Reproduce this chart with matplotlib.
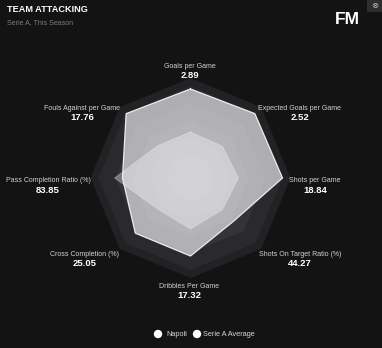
import numpy as np
import matplotlib
matplotlib.use('Agg')
from matplotlib import pyplot as plt
from matplotlib.patches import Rectangle, Ellipse

# axis labels, clockwise from the top
labels = ['Goals per Game', 'Expected Goals per Game', 'Shots per Game',
          'Shots On Target Ratio (%)', 'Dribbles Per Game', 'Cross Completion (%)',
          'Pass Completion Ratio (%)', 'Fouls Against per Game']
napoli_values = ['2.89', '2.52', '18.84', '44.27', '17.32', '25.05', '83.85', '17.76']

# radial position of each polygon corner (share of the outer ring)
napoli_r = [0.89, 0.91, 0.92, 0.61, 0.78, 0.78, 0.68, 0.91]
average_r = [0.46, 0.45, 0.48, 0.45, 0.51, 0.45, 0.76, 0.46]

# background rings
ring_r = [1.0, 0.92, 0.75, 0.58, 0.41, 0.24]
ring_colors = ['#222225', '#2a2a2e', '#333338', '#3d3d42', '#48484e', '#535359']

BG = '#131313'
W, H = 382, 348

def fx(x):
    return x / W

def fy(y):
    return 1 - y / H

fig = plt.figure(figsize=(W / 100, H / 100), dpi=100, facecolor=BG)

cx, cy, R = 190.5, 178, 100
ax = fig.add_axes([fx(cx - R), fy(cy + R), 2 * R / W, 2 * R / H], polar=True)
ax.set_facecolor('none')
ax.set_theta_offset(np.pi / 2)
ax.set_theta_direction(-1)
ax.set_ylim(0, 1)
ax.axis('off')

n = len(labels)
theta = np.linspace(0, 2 * np.pi, n, endpoint=False)
theta_c = np.append(theta, theta[0])

for r, c in zip(ring_r, ring_colors):
    ax.fill(theta_c, [r] * (n + 1), color=c, lw=0, zorder=1)

nap = np.append(napoli_r, napoli_r[0])
avg = np.append(average_r, average_r[0])
ax.fill(theta_c, nap, color='#f4f4f6', alpha=0.66, lw=0, zorder=2)
ax.plot(theta_c, nap, color='#ededed', lw=0.9, zorder=4)
ax.fill(theta_c, avg, color='white', alpha=0.34, lw=0, zorder=3)
ax.plot(theta_c, avg, color='white', alpha=0.3, lw=0.6, zorder=3)

# label positions in pixels (name line centre)
label_xy = [(190, 67), (300, 109), (315, 181), (300, 254),
            (189, 286), (85, 254), (48, 181), (82, 109)]
for name, val, (x, y) in zip(labels, napoli_values, label_xy):
    fig.text(fx(x), fy(y), name, color='#d2d2d2', fontsize=5, family='Liberation Sans',
             ha='center', va='center')
    fig.text(fx(x), fy(y + 9), val, color='white', fontsize=6.8, family='Liberation Sans',
             fontweight='bold', ha='center', va='center')

# header
fig.text(fx(7), fy(10), 'TEAM ATTACKING', color='white', fontsize=6.6,
         family='Liberation Sans', fontweight='bold', ha='left', va='center')
fig.text(fx(7), fy(23), 'Serie A, This Season', color='#7c7c7c', fontsize=5,
         family='Liberation Sans', ha='left', va='center')
fig.text(fx(347.5), fy(19), 'FM', color='white', fontsize=12.5,
         family='Liberation Sans', fontweight='bold', ha='center', va='center')
fig.patches.append(Rectangle((fx(367), fy(12)), 15 / W, 12 / H, transform=fig.transFigure,
                             facecolor='#2e2e2e', edgecolor='none'))
fig.text(fx(375), fy(5.5), '\u2297', color='#bdbdbd', fontsize=6,
         ha='center', va='center')

# legend
for lx, tx, name in [(158, 166, 'Napoli'), (197, 203, 'Serie A Average')]:
    fig.patches.append(Ellipse((fx(lx), fy(334)), 8.4 / W, 8.4 / H, transform=fig.transFigure,
                               facecolor='white', edgecolor='none'))
    fig.text(fx(tx), fy(334), name, color='#d6d6d6', fontsize=5.3,
             family='Liberation Sans', ha='left', va='center')

fig.savefig('out.png', dpi=100, facecolor=BG)
